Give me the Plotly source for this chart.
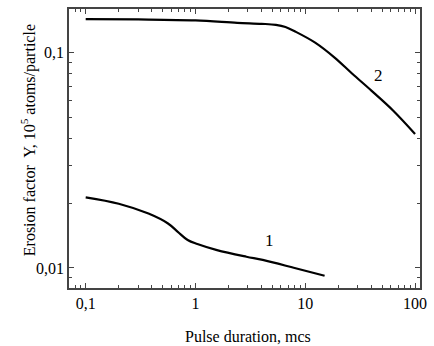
import plotly.graph_objects as go
import numpy as np

# Curve 2
x2 = [0.1, 0.3, 1, 2.4, 4, 5.4, 6.6, 8.15, 12.3, 18.5, 26.8, 40, 63, 100]
y2 = [0.1435, 0.143, 0.1415, 0.138, 0.1365, 0.135, 0.132, 0.1255, 0.1116, 0.0951, 0.080, 0.0668, 0.054, 0.042]
# Curve 1
x1 = [0.1, 0.2, 0.373, 0.562, 0.69, 0.849, 1.04, 1.57, 2.91, 4.1, 8, 15]
y1 = [0.0213, 0.0199, 0.0179, 0.0161, 0.01473, 0.01349, 0.01292, 0.01211, 0.01128, 0.0109, 0.0100, 0.0092]

x_tickvals = [0.1, 1, 10, 100]
x_ticktext = ["0,1", "1", "10", "100"]
y_tickvals = [0.01, 0.1]
y_ticktext = ["0,01", "0,1"]

FONT = "Liberation Serif, Times New Roman, serif"

fig = go.Figure()
fig.add_trace(go.Scatter(x=x2, y=y2, mode="lines", line=dict(color="black", width=2.2, shape="spline", smoothing=1.0), showlegend=False))
fig.add_trace(go.Scatter(x=x1, y=y1, mode="lines", line=dict(color="black", width=2.2, shape="spline", smoothing=1.0), showlegend=False))

fig.add_annotation(x=np.log10(46), y=np.log10(0.0783), text="2", showarrow=False, font=dict(size=17, color="black", family=FONT))
fig.add_annotation(x=np.log10(4.77), y=np.log10(0.01349), text="1", showarrow=False, font=dict(size=17, color="black", family=FONT))

# axis titles
fig.add_annotation(xref="paper", yref="paper", x=0.511, y=-0.175, text="Pulse duration, mcs",
                   showarrow=False, font=dict(size=16, color="black", family=FONT), xanchor="center", yanchor="middle")
fig.add_annotation(xref="paper", yref="paper", x=-0.1145, y=0.529, text="Erosion factor  Y, 10<sup>5</sup> atoms/particle",
                   textangle=-90, showarrow=False, font=dict(size=16, color="black", family=FONT), xanchor="center", yanchor="middle")

xminor = [v * m for m in [0.01, 0.1, 1, 10] for v in range(2, 10)]
yminor = [v * m for m in [0.001, 0.01] for v in range(2, 10)]

axis_common = dict(showline=True, linecolor="#444", linewidth=1.5, mirror="ticks",
                   ticks="inside", ticklen=5, tickwidth=1, tickcolor="#444",
                   showgrid=False, zeroline=False,
                   tickfont=dict(size=16, color="black", family=FONT))

fig.update_xaxes(type="log", range=[-1.152, 2.045], tickvals=x_tickvals, ticktext=x_ticktext,
                 minor=dict(tickvals=xminor, ticks="inside", ticklen=3, tickwidth=1, tickcolor="#444", showgrid=False),
                 **axis_common)
fig.update_yaxes(type="log", range=[-2.093, -0.796], tickvals=y_tickvals, ticktext=y_ticktext,
                 minor=dict(tickvals=yminor, ticks="inside", ticklen=3, tickwidth=1, tickcolor="#444", showgrid=False),
                 **axis_common)

fig.update_layout(width=434, height=346, margin=dict(l=69, r=7, t=8, b=58),
                  plot_bgcolor="white", paper_bgcolor="white",
                  font=dict(family=FONT, color="black"))

fig.write_html("out.html")
